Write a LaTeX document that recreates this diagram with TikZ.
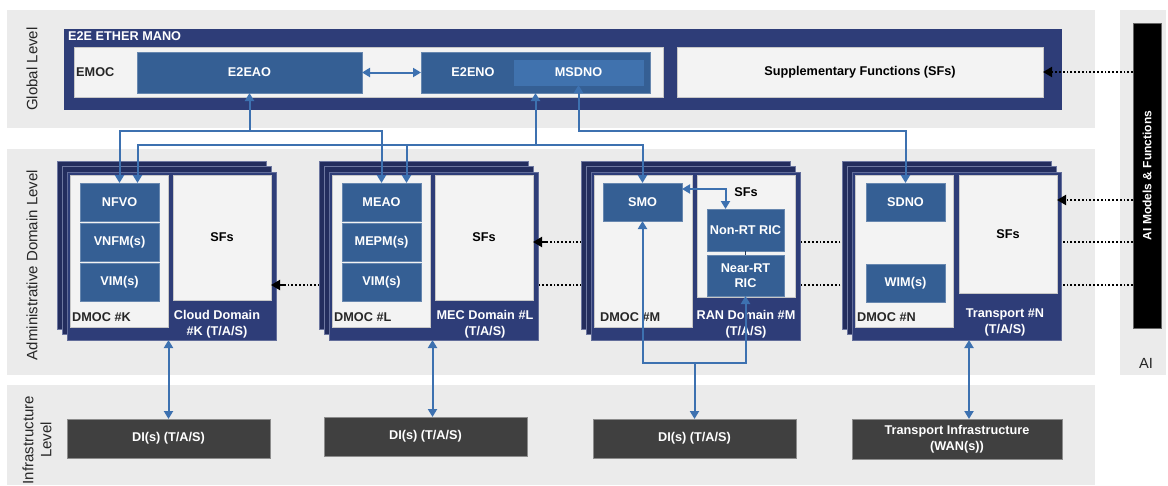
\documentclass[tikz,border=0pt]{standalone}
\usepackage{fontspec}
\setmainfont{Liberation Sans}
\usetikzlibrary{arrows.meta,positioning}

\definecolor{bandgray}{HTML}{EBEBEB}
\definecolor{navy}{HTML}{2E3D78}
\definecolor{navydark}{HTML}{232D5E}
\definecolor{fnblue}{HTML}{355F94}
\definecolor{msdblue}{HTML}{4072AE}
\definecolor{panelgray}{HTML}{F3F3F3}
\definecolor{linkblue}{HTML}{3D71B0}
\definecolor{infragray}{HTML}{404040}
\definecolor{txtdark}{HTML}{262626}

\pgfdeclarelayer{bands}
\pgfdeclarelayer{flows}
\pgfsetlayers{bands,flows,main}

\tikzset{
  box/.style={anchor=north west, inner sep=0pt, outer sep=0pt, align=center},
  fn/.style={box, fill=fnblue, draw=fnblue!75!white, line width=0.5pt, text=white, minimum width=79pt, minimum height=38pt},
  panel/.style={box, fill=panelgray, draw=black!22, line width=0.5pt, text=black},
  dombox/.style={box, fill=navy, draw=navy!75!white, line width=0.6pt, minimum width=209pt, minimum height=168pt},
  sheet/.style={fill=navydark, draw=navy!70!white, line width=0.6pt},
  infra/.style={box, fill=infragray, draw=black!45, line width=0.6pt, text=white, minimum width=203pt, minimum height=39pt},
  lbl/.style={inner sep=1pt, align=center},
  lvl/.style={lbl, rotate=90, text=txtdark, font=\fontsize{15}{18}\selectfont},
  link/.style={draw=linkblue, line width=2pt, >={Triangle[width=9pt,length=8pt]}},
  aiflow/.style={draw=black, line width=1.9pt, dash pattern=on 1.9pt off 1.9pt, >={Triangle[width=10pt,length=9pt]}},
}

\begin{document}
\begin{tikzpicture}[x=1pt, y=-1pt, font=\fontsize{12.7}{16}\selectfont\bfseries]
  \useasboundingbox (0,0) rectangle (1168,485);

  % level bands
  \begin{pgfonlayer}{bands}
    \fill[bandgray] (7,10) rectangle (1095,128);
    \fill[bandgray] (7,149) rectangle (1095,375);
    \fill[bandgray] (7,385) rectangle (1095,485);
    \fill[bandgray] (1120,10) rectangle (1166,375);
  \end{pgfonlayer}

  \node[lvl] (lglobal) at (32,69) {Global Level};
  \node[lvl] (ladmin) at (32,265) {Administrative Domain Level};
  \node[lvl] (linfra) at (37,440) {Infrastructure\\Level};

  % global level
  \node[box, fill=navy, minimum width=998pt, minimum height=81pt] (mano) at (64,29) {};
  \node[lbl, anchor=west, text=white] (manot) at (67,36) {E2E ETHER MANO};
  \node[panel, minimum width=589pt, minimum height=50pt] (emoc) at (74,47) {};
  \node[lbl, anchor=west, text=txtdark] (emoct) at (75,72) {EMOC};
  \node[fn, minimum width=225pt, minimum height=41pt] (e2eao) at (137,52) {E2EAO};
  \node[fn, minimum width=229pt, minimum height=41pt] (e2eno) at (421,52) {};
  \node[lbl, text=white] (e2enot) at (473,72.5) {E2ENO};
  \node[fn, fill=msdblue, draw=msdblue, minimum width=129pt, minimum height=25pt] (msdno) at (514,60) {MSDNO};
  \node[panel, minimum width=366pt, minimum height=50pt] (sfg) at (677,47) {Supplementary Functions (SFs)};

  % AI
  \node[box, fill=black, draw=black!60, text=white, minimum width=28pt, minimum height=305pt,
        font=\fontsize{12}{14}\selectfont\bfseries] (aibar) at (1133,23) {\rotatebox{90}{AI Models \& Functions}};
  \node[lbl, text=txtdark, font=\fontsize{14.7}{16}\selectfont] (ailbl) at (1146,363) {AI};

  % domain stacks
  \foreach \x/\d in {67/cloud,329/mec,591/ran,852/tn} {
    \filldraw[sheet] (\x-10,161) rectangle ++(209,168);
    \filldraw[sheet] (\x-5,166) rectangle ++(209,168);
    \node[dombox] (\d) at (\x,172) {};
    \node[panel, minimum width=98pt, minimum height=152pt] (dmoc\d) at (\x+3,175) {};
  }

  \node[panel, minimum width=98pt, minimum height=125pt] (cloudsf) at (173,175) {SFs};
  \node[panel, minimum width=98pt, minimum height=125pt] (mecsf) at (435,175) {SFs};
  \node[panel, minimum width=98pt, minimum height=122pt] (ransf) at (697,175) {};
  \node[lbl] (ransft) at (746,192) {SFs};
  \node[panel, minimum width=98pt, minimum height=118pt] (tnsf) at (959,175) {SFs};

  \node[fn] (nfvo) at (80,183) {NFVO};
  \node[fn, below=2pt of nfvo] (vnfm) {VNFM(s)};
  \node[fn, below=2pt of vnfm] (vimk) {VIM(s)};
  \node[fn] (meao) at (342,183) {MEAO};
  \node[fn, below=2pt of meao] (mepm) {MEPM(s)};
  \node[fn, below=2pt of mepm] (viml) {VIM(s)};
  \node[fn] (smo) at (603,183) {SMO};
  \node[fn, minimum width=77pt, minimum height=42pt] (nonrt) at (707,209) {Non-RT RIC};
  \node[fn, minimum width=77pt, minimum height=41pt, below=4pt of nonrt,
        font=\fontsize{12.7}{15}\selectfont\bfseries] (nearrt) {Near-RT\\RIC};
  \node[fn] (sdno) at (866,183) {SDNO};
  \node[fn] (wim) at (866,264) {WIM(s)};

  \node[lbl, anchor=west, text=txtdark] (dmock) at (71,317) {DMOC \#K};
  \node[lbl, anchor=west, text=txtdark] (dmocl) at (333,317) {DMOC \#L};
  \node[lbl, anchor=west, text=txtdark] (dmocm) at (599,317) {DMOC \#M};
  \node[lbl, anchor=west, text=txtdark] (dmocn) at (856,317) {DMOC \#N};

  \node[lbl, text=white] (cloudt) at (217,324) {Cloud Domain\\\#K (T/A/S)};
  \node[lbl, text=white] (mect) at (485,324) {MEC Domain \#L\\(T/A/S)};
  \node[lbl, text=white] (rant) at (746,324) {RAN Domain \#M\\(T/A/S)};
  \node[lbl, text=white] (tnt) at (1005,322) {Transport \#N\\(T/A/S)};

  % infrastructure level
  \node[infra] (di1) at (67,419) {DI(s) (T/A/S)};
  \node[infra] (di2) at (324,417) {DI(s) (T/A/S)};
  \node[infra] (di3) at (593,419) {DI(s) (T/A/S)};
  \node[infra, minimum width=210pt, minimum height=40pt] (di4) at (852,419) {Transport Infrastructure\\(WAN(s))};

  % AI flows (two of them pass behind the domain stacks)
  \coordinate (tnin) at (tnsf.east |- 0,200);
  \coordinate (mecin) at (mecsf.east |- 0,242);
  \coordinate (cloudin) at (cloudsf.east |- 0,285);
  \draw[aiflow,->] (aibar.west |- sfg.east) -- (sfg.east);
  \draw[aiflow,->] (aibar.west |- tnin) -- (tnin);
  \begin{pgfonlayer}{flows}
    \draw[aiflow] (aibar.west |- mecin) -- (mecin);
    \draw[aiflow] (aibar.west |- cloudin) -- (cloudin);
  \end{pgfonlayer}
  \draw[aiflow,->] ([xshift=13pt]mecin) -- (mecin);
  \draw[aiflow,->] ([xshift=13pt]cloudin) -- (cloudin);

  % orchestration links
  \coordinate (ja) at (e2eao.south |- 0,131);
  \coordinate (jb) at (e2eno.south |- 0,145);
  \coordinate (jc) at (msdno.south |- 0,131);
  \draw[link,<->] (e2eao) -- (e2eno);
  \draw[link,->] (ja) -- (e2eao.south);
  \draw[link,->] (ja) -| (nfvo.north);
  \draw[link,->] (ja) -| (meao.north);
  \draw[link,->] (jb) -- (e2eno.south);
  \foreach \n/\dx in {nfvo/18,meao/25,smo/0}
    \draw[link,->] (jb) -| ([xshift=\dx pt]\n.north);
  \draw[link,<->] (msdno.south) -- (jc) -| (sdno.north);
  \draw[link,<->] ([yshift=13pt]smo.east) -| ([xshift=-20pt]nonrt.north);
  \draw[line width=0.8pt, draw=fnblue!60!black] (nonrt) -- (nearrt);

  % links to infrastructure
  \coordinate (mecd) at ([xshift=7pt]di2.north);
  \coordinate (tnd) at ([xshift=12pt]di4.north);
  \coordinate (jr) at (di3.north |- 0,363);
  \draw[link,<->] (cloud.south -| di1.north) -- (di1.north);
  \draw[link,<->] (mec.south -| mecd) -- (mecd);
  \draw[link,<->] (smo.south) |- (jr) -| (nearrt.south);
  \draw[link,->] (jr) -- (di3.north);
  \draw[link,<->] (tn.south -| tnd) -- (tnd);
\end{tikzpicture}
\end{document}
